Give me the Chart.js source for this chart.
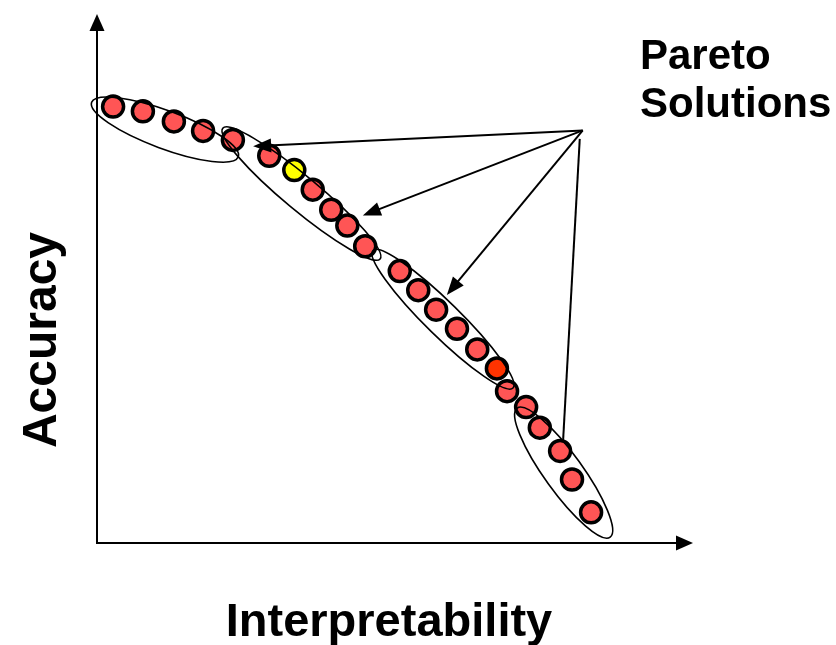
<!DOCTYPE html>
<html>
<head>
<meta charset="utf-8">
<script src="https://cdn.jsdelivr.net/npm/chart.js@4/dist/chart.umd.min.js"></script>
<style>
  html, body { margin: 0; padding: 0; background: #fff; }
  #wrap { width: 836px; height: 645px; position: relative; }
</style>
</head>
<body>
<div id="wrap"><canvas id="paretoChart"></canvas></div>
<script>
// pareto front points (interpretability vs accuracy, arbitrary units 0-100)
var interpretability = [2.7, 7.7, 12.9, 17.8, 22.8, 28.9, 33.1, 36.2, 39.3, 42.0, 45.0,
  50.8, 53.9, 56.9, 60.4, 63.8, 67.1, 68.8, 72.0, 74.3, 77.7, 79.7, 82.9];
var accuracy = [82.5, 81.6, 79.7, 77.9, 76.2, 73.2, 70.5, 66.8, 63.0, 60.0, 56.1,
  51.4, 47.8, 44.1, 40.5, 36.6, 33.0, 28.7, 25.7, 21.8, 17.4, 12.0, 5.8];
// two highlighted solutions
var highlighted = { 6: "#ffff00", 16: "#ff3300" };

// groups circled on the front: ends of the long axis [x1, y1, x2, y2]
var groupEllipses = [
  [-0.9, 83.3, 23.7, 73.0],
  [21.1, 78.4, 47.5, 53.7],
  [46.3, 55.3, 69.8, 29.3],
  [70.5, 25.5, 86.1, 1.1]
];
var groupHalfWidth = [19, 17, 17, 19];

// "Pareto Solutions" callout
var calloutFrom = [81.5, 78.0];
var calloutArrows = [[26.2, 75.0], [44.6, 61.9], [58.7, 46.9]];
var calloutLine = [[81.0, 76.4], [78.2, 19.3]];

var points = interpretability.map(function(x, i) { return { x: x, y: accuracy[i] }; });
var fills = points.map(function(p, i) { return highlighted[i] || "#ff5555"; });

function arrowHead(ctx, x1, y1, x2, y2, len, w) {
  var a = Math.atan2(y2 - y1, x2 - x1);
  ctx.save();
  ctx.translate(x2, y2);
  ctx.rotate(a);
  ctx.beginPath();
  ctx.moveTo(0, 0);
  ctx.lineTo(-len, -w / 2);
  ctx.lineTo(-len, w / 2);
  ctx.closePath();
  ctx.fill();
  ctx.restore();
}

var decorations = {
  id: "decorations",
  beforeDatasetsDraw: function(chart) {
    var ctx = chart.ctx, a = chart.chartArea;
    ctx.save();
    ctx.strokeStyle = "#000";
    ctx.fillStyle = "#000";
    ctx.lineWidth = 2;
    // axes with arrow heads
    ctx.beginPath();
    ctx.moveTo(a.left, a.top + 12);
    ctx.lineTo(a.left, a.bottom);
    ctx.lineTo(a.right - 12, a.bottom);
    ctx.stroke();
    arrowHead(ctx, a.left, a.bottom, a.left, a.top, 17, 15);
    arrowHead(ctx, a.left, a.bottom, a.right, a.bottom, 17, 15);

    // axis titles
    ctx.font = "bold 47px 'Liberation Sans', Arial, sans-serif";
    ctx.textAlign = "center";
    ctx.textBaseline = "alphabetic";
    ctx.fillText("Interpretability", 389, 636);
    ctx.save();
    ctx.translate(56, 340);
    ctx.rotate(-Math.PI / 2);
    ctx.font = "bold 48px 'Liberation Sans', Arial, sans-serif";
    ctx.fillText("Accuracy", 0, 0);
    ctx.restore();

    ctx.font = "bold 42px 'Liberation Sans', Arial, sans-serif";
    ctx.textAlign = "left";
    ctx.fillText("Pareto", 640, 69);
    ctx.fillText("Solutions", 640, 117);
    ctx.restore();
  },
  afterDatasetsDraw: function(chart) {
    var ctx = chart.ctx;
    var xs = chart.scales.x, ys = chart.scales.y;
    ctx.save();
    ctx.strokeStyle = "#000";
    ctx.fillStyle = "#000";
    ctx.lineWidth = 1.6;
    groupEllipses.forEach(function(e, i) {
      var x1 = xs.getPixelForValue(e[0]), y1 = ys.getPixelForValue(e[1]);
      var x2 = xs.getPixelForValue(e[2]), y2 = ys.getPixelForValue(e[3]);
      var rx = Math.hypot(x2 - x1, y2 - y1) / 2;
      ctx.beginPath();
      ctx.ellipse((x1 + x2) / 2, (y1 + y2) / 2, rx, groupHalfWidth[i],
        Math.atan2(y2 - y1, x2 - x1), 0, Math.PI * 2);
      ctx.stroke();
    });

    ctx.lineWidth = 2;
    var fx = xs.getPixelForValue(calloutFrom[0]), fy = ys.getPixelForValue(calloutFrom[1]);
    calloutArrows.forEach(function(t) {
      var tx = xs.getPixelForValue(t[0]), ty = ys.getPixelForValue(t[1]);
      var ang = Math.atan2(ty - fy, tx - fx);
      ctx.beginPath();
      ctx.moveTo(fx, fy);
      ctx.lineTo(tx - Math.cos(ang) * 10, ty - Math.sin(ang) * 10);
      ctx.stroke();
      arrowHead(ctx, fx, fy, tx, ty, 18, 14);
    });
    ctx.beginPath();
    ctx.moveTo(xs.getPixelForValue(calloutLine[0][0]), ys.getPixelForValue(calloutLine[0][1]));
    ctx.lineTo(xs.getPixelForValue(calloutLine[1][0]), ys.getPixelForValue(calloutLine[1][1]));
    ctx.stroke();
    ctx.restore();
  }
};

new Chart(document.getElementById("paretoChart"), {
  type: "scatter",
  data: {
    datasets: [{
      label: "Pareto Solutions",
      data: points,
      backgroundColor: fills,
      borderColor: "#000",
      borderWidth: 3.5,
      pointRadius: 10.5,
      pointHoverRadius: 10.5
    }]
  },
  options: {
    responsive: true,
    maintainAspectRatio: false,
    animation: false,
    layout: { padding: { left: 97, right: 143, top: 10, bottom: 102 } },
    scales: {
      x: { type: "linear", min: 0, max: 100, display: false },
      y: { type: "linear", min: 0, max: 100, display: false }
    },
    plugins: {
      legend: { display: false },
      tooltip: { enabled: false }
    },
    clip: false
  },
  plugins: [decorations]
});
</script>
</body>
</html>
